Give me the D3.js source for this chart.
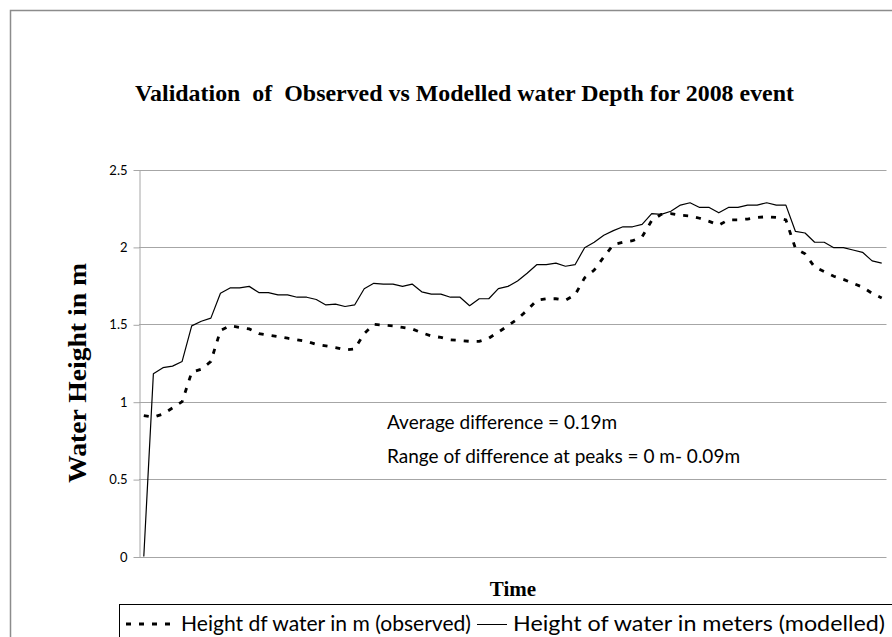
<!DOCTYPE html>
<html>
<head>
<meta charset="utf-8">
<script src="https://cdn.jsdelivr.net/npm/d3@7/dist/d3.min.js"></script>
<style>
  body { margin: 0; background: #fff; }
  svg { display: block; }
</style>
</head>
<body>
<svg id="chart" width="892" height="637"></svg>
<script>
// Observed gauge readings (m), one per time step
const observed = [
  0.91, 0.90, 0.92, 0.96, 1.00, 1.19, 1.21, 1.26, 1.46, 1.49,
  1.48, 1.47, 1.44, 1.43, 1.42, 1.41, 1.40, 1.39, 1.37, 1.36,
  1.35, 1.335, 1.34, 1.44, 1.50, 1.495, 1.49, 1.48, 1.47, 1.445,
  1.425, 1.415, 1.40, 1.395, 1.39, 1.39, 1.41, 1.45, 1.49, 1.535,
  1.59, 1.655, 1.665, 1.665, 1.655, 1.69, 1.80, 1.85, 1.935, 2.015,
  2.03, 2.04, 2.065, 2.17, 2.21, 2.215, 2.205, 2.20, 2.185, 2.165,
  2.14, 2.175, 2.175, 2.18, 2.19, 2.195, 2.19, 2.175, 1.99, 1.955,
  1.87, 1.84, 1.81, 1.79, 1.765, 1.74, 1.70, 1.67
];

// Modelled water heights (m), same time steps
const modelled = [
  0.00, 1.18, 1.22, 1.23, 1.26, 1.49, 1.52, 1.54, 1.70, 1.735,
  1.735, 1.745, 1.705, 1.705, 1.69, 1.69, 1.675, 1.675, 1.66, 1.625,
  1.63, 1.615, 1.625, 1.73, 1.765, 1.76, 1.76, 1.745, 1.76, 1.71,
  1.695, 1.695, 1.675, 1.675, 1.62, 1.665, 1.665, 1.73, 1.745, 1.78,
  1.83, 1.885, 1.885, 1.895, 1.875, 1.885, 1.995, 2.03, 2.075, 2.105,
  2.13, 2.13, 2.145, 2.215, 2.21, 2.23, 2.27, 2.285, 2.255, 2.255,
  2.22, 2.255, 2.255, 2.27, 2.27, 2.285, 2.27, 2.27, 2.10, 2.09,
  2.03, 2.03, 1.995, 1.995, 1.98, 1.965, 1.91, 1.895
];

// Time step categories (unlabelled on the axis)
const timeSteps = observed.map((_, i) => i + 1);

const yTicks = [0, 0.5, 1, 1.5, 2, 2.5];
const yTickLabels = ["0", "0.5", "1", "1.5", "2", "2.5"];

const seriesNames = ["Height df water in m (observed)", "Height of water in meters (modelled)"];
const titleText = "Validation  of  Observed vs Modelled water Depth for 2008 event";
const yTitle = "Water Height in m";
const xTitle = "Time";
const notes = ["Average difference = 0.19m", "Range of difference at peaks = 0 m- 0.09m"];

const sansFont = "Lato, 'Open Sans', sans-serif";
const serifFont = "'Liberation Serif', 'Times New Roman', serif";

const svg = d3.select("#chart");

// chart area frame
svg.append("rect")
  .attr("x", 10.5).attr("y", 10.5)
  .attr("width", 900).attr("height", 700)
  .attr("fill", "none")
  .attr("stroke", "#8c8c8c")
  .attr("stroke-width", 1.5);

const plot = { left: 139, right: 886.5, top: 169.5, bottom: 556.5 };

const x = d3.scalePoint()
  .domain(timeSteps)
  .range([plot.left, plot.right])
  .padding(0.5);

const y = d3.scaleLinear()
  .domain([0, 2.5])
  .range([plot.bottom, plot.top]);

// horizontal gridlines
svg.append("g")
  .selectAll("line")
  .data(yTicks)
  .join("line")
  .attr("x1", plot.left)
  .attr("x2", plot.right)
  .attr("y1", d => Math.round(y(d)) + 0.5)
  .attr("y2", d => Math.round(y(d)) + 0.5)
  .attr("stroke", "#a6a6a6")
  .attr("stroke-width", 1);

// value axis
const yAxis = d3.axisLeft(y)
  .tickValues(yTicks)
  .tickFormat((d, i) => yTickLabels[i])
  .tickSize(6)
  .tickSizeOuter(0)
  .tickPadding(6);

const gy = svg.append("g")
  .attr("transform", `translate(${plot.left + 0.5},0.5)`)
  .call(yAxis);
gy.select(".domain").attr("stroke", "#a6a6a6");
gy.selectAll(".tick line").attr("stroke", "#a6a6a6");
gy.selectAll(".tick text")
  .attr("font-family", sansFont)
  .attr("font-size", 13)
  .attr("fill", "#000");

// series lines
const line = d3.line()
  .x((d, i) => x(timeSteps[i]))
  .y(d => y(d));

svg.append("path")
  .datum(modelled)
  .attr("d", line)
  .attr("fill", "none")
  .attr("stroke", "#000")
  .attr("stroke-width", 1.2)
  .attr("stroke-linejoin", "round");

svg.append("path")
  .datum(observed)
  .attr("d", line)
  .attr("fill", "none")
  .attr("stroke", "#000")
  .attr("stroke-width", 2.8)
  .attr("stroke-dasharray", "5,8");

// title
svg.append("text")
  .attr("x", 135).attr("y", 101)
  .attr("font-family", serifFont)
  .attr("font-weight", "bold")
  .attr("font-size", 23)
  .attr("textLength", 659)
  .attr("lengthAdjust", "spacingAndGlyphs")
  .style("white-space", "pre")
  .text(titleText);

// y axis title
svg.append("text")
  .attr("transform", "translate(86,373) rotate(-90)")
  .attr("text-anchor", "middle")
  .attr("font-family", serifFont)
  .attr("font-weight", "bold")
  .attr("font-size", 25)
  .attr("textLength", 220)
  .attr("lengthAdjust", "spacingAndGlyphs")
  .text(yTitle);

// x axis title
svg.append("text")
  .attr("x", 513).attr("y", 596)
  .attr("text-anchor", "middle")
  .attr("font-family", serifFont)
  .attr("font-weight", "bold")
  .attr("font-size", 21)
  .text(xTitle);

// annotation
svg.append("g")
  .selectAll("text")
  .data(notes)
  .join("text")
  .attr("x", 387)
  .attr("y", (d, i) => 429 + i * 34)
  .attr("font-family", sansFont)
  .attr("font-size", 19)
  .text(d => d);

// legend
const legend = svg.append("g");
legend.append("rect")
  .attr("x", 119.5).attr("y", 604.5)
  .attr("width", 800).attr("height", 80)
  .attr("fill", "#fff")
  .attr("stroke", "#000")
  .attr("stroke-width", 1);

legend.append("line")
  .attr("x1", 126).attr("x2", 178)
  .attr("y1", 624).attr("y2", 624)
  .attr("stroke", "#000")
  .attr("stroke-width", 2.8)
  .attr("stroke-dasharray", "5,8");

legend.append("text")
  .attr("x", 181).attr("y", 631)
  .attr("font-family", sansFont)
  .attr("font-size", 21)
  .attr("textLength", 290)
  .attr("lengthAdjust", "spacingAndGlyphs")
  .text(seriesNames[0]);

legend.append("line")
  .attr("x1", 477).attr("x2", 507)
  .attr("y1", 624.5).attr("y2", 624.5)
  .attr("stroke", "#000")
  .attr("stroke-width", 1);

legend.append("text")
  .attr("x", 885).attr("y", 631)
  .attr("text-anchor", "end")
  .attr("font-family", sansFont)
  .attr("font-size", 21)
  .attr("textLength", 372)
  .attr("lengthAdjust", "spacingAndGlyphs")
  .text(seriesNames[1]);
</script>
</body>
</html>
